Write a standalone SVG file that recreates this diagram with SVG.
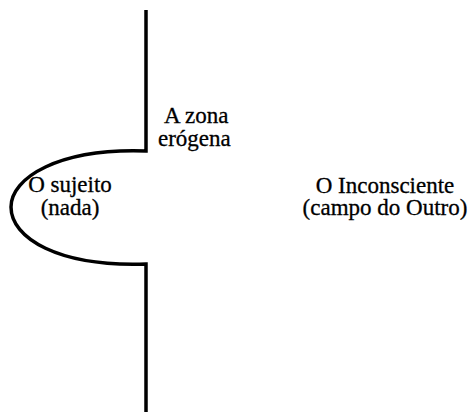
<svg xmlns="http://www.w3.org/2000/svg" width="471" height="416" viewBox="0 0 471 416">
<style>
.t{font-family:"Liberation Serif","Times New Roman",serif;font-size:23px;fill:#000;stroke:#000;stroke-width:0.3}
.l{fill:none;stroke:#000;stroke-width:3.5}
</style>
<rect width="471" height="416" fill="#fff"/>
<g id="connectors">
<path class="l" d="M146,10 V151 C58,148 11,178 11,207 C11,238 58,267 146,264 V412"/>
</g>
<g id="zona"><text class="t" x="164" y="123">A zona</text><text class="t" x="158" y="146">erógena</text></g>
<g id="sujeito"><text class="t" x="70" y="192" text-anchor="middle">O sujeito</text><text class="t" x="70" y="215" text-anchor="middle">(nada)</text></g>
<g id="inconsciente"><text class="t" x="385" y="193" text-anchor="middle">O Inconsciente</text><text class="t" x="385" y="215" text-anchor="middle">(campo do Outro)</text></g>
</svg>
